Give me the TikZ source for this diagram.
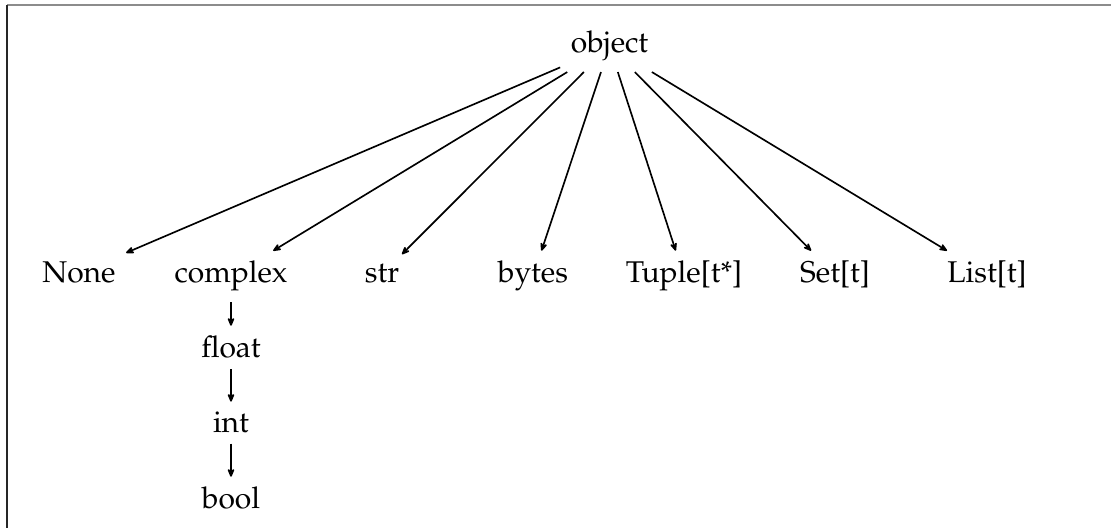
\documentclass[tikz,border=0pt]{standalone}
\usepackage[T1]{fontenc}
\usepackage{mathpazo}
\usetikzlibrary{arrows.meta}
\begin{document}
\begin{tikzpicture}[x=0.3333pt,y=-0.3333pt,
  typ/.style={anchor=base, inner sep=0.3333em},
  sub/.style={-{Stealth[length=3.6pt,width=3pt,inset=1.3pt,round]}, line width=0.55pt}]
\useasboundingbox (0,0) rectangle (1111,528);
% frame
\draw[black!45, line width=0.35pt] (7,5) -- (1111,5);
\draw[black!85, line width=0.35pt] (7,5) -- (7,528);
% nodes
\node[typ] (object) at (609.5,53) {object};
\node[typ] (none) at (79,283) {None};
\node[typ] (complex) at (231,283) {complex};
\node[typ] (str) at (382,283) {str};
\node[typ] (bytes) at (533,283) {bytes};
\node[typ] (tuple) at (684,283) {Tuple[t*]};
\node[typ] (set) at (835,283) {Set[t]};
\node[typ] (list) at (987,283) {List[t]};
\node[typ] (float) at (231,358) {float};
\node[typ] (int) at (231,433) {int};
\node[typ] (bool) at (231,509) {bool};
% edges
\foreach \t in {none,complex,str,bytes,tuple,set,list}
  \draw[sub] (object) -- (\t);
\draw[sub] (complex) -- (float);
\draw[sub] (float) -- (int);
\draw[sub] (int) -- (bool);
\end{tikzpicture}
\end{document}
